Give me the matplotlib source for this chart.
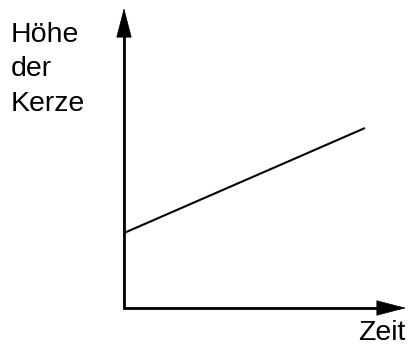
import matplotlib.pyplot as plt
from matplotlib.patches import FancyArrowPatch

# Kerze: Hoehe ueber der Zeit (schematisch)
zeit = [0, 10]
hoehe = [3.0, 7.2]
label_lines = ['Höhe', 'der', 'Kerze']
x_label = 'Zeit'

plt.rcParams['font.family'] = ['Liberation Sans', 'DejaVu Sans']

W, H = 408, 346
fig = plt.figure(figsize=(W / 100, H / 100), dpi=100)

# origin of the axes at pixel (124, 308), arrows end at x=406 / y=8
x0, y0, x1, y1 = 124, 308, 406, 8
ax = fig.add_axes([x0 / W, (H - y0) / H, (x1 - x0) / W, (y0 - y1) / H])
ax.set_xlim(0, 11.7)
ax.set_ylim(0, 12)
ax.axis('off')

# the curve
ax.plot(zeit, hoehe, color='black', lw=1.5, solid_capstyle='butt', clip_on=False)

# axes drawn as an L with arrow heads
ax.plot([0, 0, 0.97], [0.97, 0, 0], transform=ax.transAxes, color='black',
        lw=2, solid_joinstyle='miter', clip_on=False)
for end in [(0, 1), (1, 0)]:
    arr = FancyArrowPatch((0, 0), end, transform=ax.transAxes,
                          arrowstyle='-|>,head_length=20,head_width=5.2',
                          mutation_scale=1, shrinkA=0, shrinkB=0,
                          color='black', lw=0.5, clip_on=False)
    ax.add_patch(arr)

# labels
for i, txt in enumerate(label_lines):
    fig.text(11 / W, (H - 42 - 34.5 * i) / H, txt, fontsize=20.5,
             ha='left', va='baseline')
fig.text(358 / W, (H - 340) / H, x_label, fontsize=20.5, ha='left', va='baseline')

fig.savefig('out.png', dpi=100)
